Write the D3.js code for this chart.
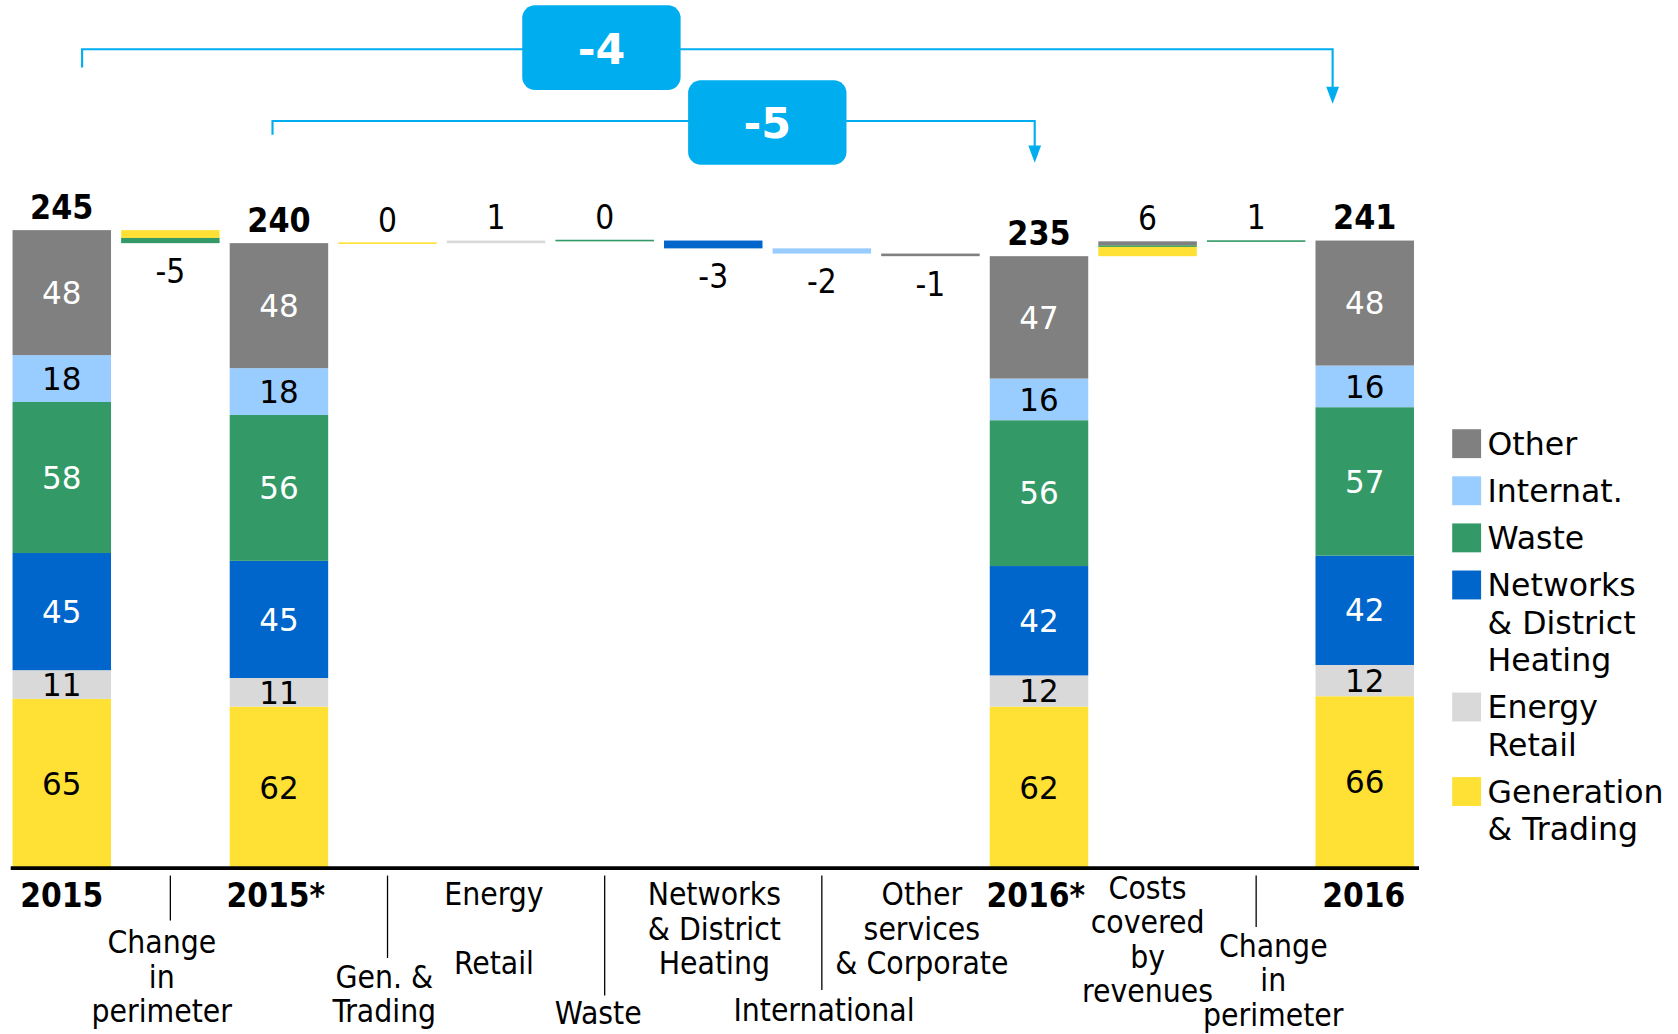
<!DOCTYPE html>
<html lang="en">
<head>
<meta charset="utf-8">
<title>Costs bridge 2015 - 2016</title>
<script src="https://cdn.jsdelivr.net/npm/d3@7"></script>
<style>
  body { margin: 0; background: #fff; }
  svg { display: block; }
  .cond { font-family: "DejaVu Sans Condensed", "DejaVu Sans", sans-serif; font-stretch: condensed; }
  .wide { font-family: "DejaVu Sans", Verdana, sans-serif; }
</style>
</head>
<body>
<script>
// series, bottom to top of each stack
var series = ["Generation & Trading", "Energy Retail", "Networks & District Heating", "Waste", "Internat.", "Other"];
var seriesColors = ["#ffe135", "#d9d9d9", "#0066cc", "#339966", "#99ccff", "#808080"];
var seriesText = ["#000", "#000", "#fff", "#fff", "#000", "#fff"];
var legendLines = [["Generation", "& Trading"], ["Energy", "Retail"], ["Networks", "& District", "Heating"], ["Waste"], ["Internat."], ["Other"]];

var categories = [["2015"], ["Change", "in", "perimeter"], ["2015*"], ["Gen. &", "Trading"], ["Energy", "", "Retail"],
  ["Waste"], ["Networks", "& District", "Heating"], ["International"], ["Other", "services", "& Corporate"],
  ["2016*"], ["Costs", "covered", "by", "revenues"], ["Change", "in", "perimeter"], ["2016"]];
var stepType = ["total", "delta", "total", "delta", "delta", "delta", "delta", "delta", "delta", "total", "delta", "delta", "total"];

var totals2015 = [65, 11, 45, 58, 18, 48];
var totals2015s = [62, 11, 45, 56, 18, 48];
var totals2016s = [62, 12, 42, 56, 16, 47];
var totals2016 = [66, 12, 42, 57, 16, 48];
var totalBars = [totals2015, totals2015s, totals2016s, totals2016];
var totalLabels = ["245", "240", "235", "241"];

var deltaValues = [
  [-3, 0, 0, -2, 0, 0],
  [0, 0, 0, 0, 0, 0],
  [0, 1, 0, 0, 0, 0],
  [0, 0, 0, 0, 0, 0],
  [0, 0, -3, 0, 0, 0],
  [0, 0, 0, 0, -2, 0],
  [0, 0, 0, 0, 0, -1],
  [4, 0, 0, 0.2, 0, 1.5],
  [0, 0, 0, 0.4, 0, 0]
];
var deltaSeries = [0, 0, 1, 3, 2, 4, 5, 0, 3]; // colour of a zero step
var deltaLabels = ["-5", "0", "1", "0", "-3", "-2", "-1", "6", "1"];

var bridges = [
  {label: "-4", from: 0, to: 12, lineY: 46, dropL: 63, tipY: 97, dxL: 19, dxR: -30, boxX: 488, boxY: 5},
  {label: "-5", from: 2, to: 9, lineY: 113, dropL: 126, tipY: 152, dxL: -6, dxR: -4, boxX: 643, boxY: 75}
];

// label layout: first line centre y and x shift
var labelY = [836, 880, 836, 912, 835, 946, 835, 943, 835, 836, 829, 883, 836];
var labelDx = [0, -8, -3, -3, -2, -6, 1, 2, -8, -3, 0, 16, -1];
var leaderEnd = [0, 860, 0, 895, 0, 930, 0, 925, 0, 0, 0, 866, 0];

var svg = d3.select("body").append("svg")
  .attr("width", 1678).attr("height", 1034)
  .attr("viewBox", "0 0 1568 966")
  .attr("preserveAspectRatio", "none");

var x = d3.scaleBand().domain(d3.range(categories.length)).range([7, 1326])
  .paddingInner(0.093).paddingOuter(0.0465);
var y = d3.scaleLinear().domain([0, 245]).range([811, 215]);
var bw = x.bandwidth();
var cx = function(i) { return x(i) + bw / 2; };

// build segments
var segs = [], tops = [];
var level = 0, ti = 0, di = 0;
categories.forEach(function(c, i) {
  if (stepType[i] == "total") {
    var vals = totalBars[ti], y0 = 0;
    vals.forEach(function(v, s) {
      segs.push({i: i, s: s, y0: y0, y1: y0 + v, label: String(v)});
      y0 += v;
    });
    level = y0;
    tops.push({i: i, text: totalLabels[ti], y: y(level) - 22, bold: true});
    ti++;
  } else {
    var d = deltaValues[di], start = level, cur = level;
    d.forEach(function(v, s) {
      if (v != 0) { segs.push({i: i, s: s, y0: cur, y1: cur + v}); cur += v; }
    });
    if (cur == start) segs.push({i: i, s: deltaSeries[di], y0: cur, y1: cur, line: true});
    var tot = d3.sum(d);
    if (tot >= 0) tops.push({i: i, text: deltaLabels[di], y: y(Math.max(start, cur)) - 22});
    else tops.push({i: i, text: deltaLabels[di], y: y(Math.min(start, cur)) + 26});
    level = cur;
    di++;
  }
});

svg.selectAll("rect.seg").data(segs).enter().append("rect")
  .attr("class", "seg")
  .attr("x", function(d) { return x(d.i); })
  .attr("width", bw)
  .attr("y", function(d) { return d.line ? y(d.y0) - 0.75 : y(Math.max(d.y0, d.y1)); })
  .attr("height", function(d) { return Math.max(Math.abs(y(d.y0) - y(d.y1)), 1.5); })
  .style("fill", function(d) { return seriesColors[d.s]; });

svg.selectAll("text.seg").data(segs.filter(function(d) { return d.label; })).enter().append("text")
  .attr("class", "wide")
  .attr("x", function(d) { return cx(d.i); })
  .attr("y", function(d) { return (y(d.y0) + y(d.y1)) / 2; })
  .attr("dy", "0.36em")
  .attr("text-anchor", "middle")
  .style("font-size", "29px")
  .style("fill", function(d) { return seriesText[d.s]; })
  .text(function(d) { return d.label; });

svg.selectAll("text.top").data(tops).enter().append("text")
  .attr("class", "cond")
  .attr("x", function(d) { return cx(d.i); })
  .attr("y", function(d) { return d.y; })
  .attr("dy", "0.36em")
  .attr("text-anchor", "middle")
  .style("font-size", function(d) { return d.bold ? "31.5px" : "31px"; })
  .style("font-weight", function(d) { return d.bold ? "bold" : "normal"; })
  .text(function(d) { return d.text; });

// axis line
svg.append("line").attr("x1", 10).attr("x2", 1326).attr("y1", 811).attr("y2", 811)
  .style("stroke", "#000").style("stroke-width", 3.5);

// leader lines
svg.selectAll("line.lead").data(d3.range(categories.length).filter(function(i) { return leaderEnd[i]; }))
  .enter().append("line")
  .attr("x1", cx).attr("x2", cx).attr("y1", 818)
  .attr("y2", function(i) { return leaderEnd[i]; })
  .style("stroke", "#000").style("stroke-width", 1.2);

// category labels
categories.forEach(function(lines, i) {
  var bold = stepType[i] == "total";
  var t = svg.append("text").attr("class", "cond")
    .attr("text-anchor", "middle")
    .style("font-size", bold ? "31px" : "29.5px")
    .style("font-weight", bold ? "bold" : "normal");
  lines.forEach(function(l, k) {
    t.append("tspan").attr("x", cx(i) + labelDx[i])
      .attr("y", labelY[i] + k * 32.3).attr("dy", "0.36em").text(l);
  });
});

// bridges
var blue = "#00aeef";
bridges.forEach(function(b) {
  var xl = cx(b.from) + b.dxL, xr = cx(b.to) + b.dxR;
  svg.append("path")
    .attr("d", "M" + xl + "," + b.dropL + "V" + b.lineY + "H" + xr + "V" + (b.tipY - 14))
    .style("fill", "none").style("stroke", blue).style("stroke-width", 2);
  svg.append("path")
    .attr("d", "M" + (xr - 6) + "," + (b.tipY - 16) + "L" + (xr + 6) + "," + (b.tipY - 16) + "L" + xr + "," + b.tipY + "Z")
    .style("fill", blue);
  svg.append("rect").attr("x", b.boxX).attr("y", b.boxY).attr("width", 148).attr("height", 79)
    .attr("rx", 12).style("fill", blue);
  svg.append("text").attr("class", "wide")
    .attr("x", b.boxX + 74).attr("y", b.boxY + 40).attr("dy", "0.36em")
    .attr("text-anchor", "middle")
    .style("font-size", "40px").style("font-weight", "bold").style("fill", "#fff")
    .text(b.label);
});

// legend, top to bottom
var legendOrder = [5, 4, 3, 2, 1, 0];
var ly = 401;
legendOrder.forEach(function(s) {
  svg.append("rect").attr("x", 1357).attr("y", ly).attr("width", 27).attr("height", 27)
    .style("fill", seriesColors[s]);
  var t = svg.append("text").attr("class", "wide").style("font-size", "29.5px");
  legendLines[s].forEach(function(l, k) {
    t.append("tspan").attr("x", 1390).attr("y", ly + 13.5 + k * 35).attr("dy", "0.36em").text(l);
  });
  ly += 44 + 35 * (legendLines[s].length - 1);
});
</script>
</body>
</html>
